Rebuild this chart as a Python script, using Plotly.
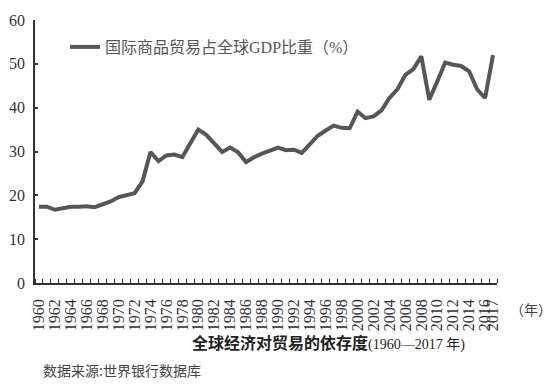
import plotly.graph_objects as go

years = list(range(1960, 2018))
share = [17.4, 17.4, 16.7, 17.0, 17.4, 17.4, 17.5, 17.3, 18.0, 18.6,
         19.6, 20.1, 20.5, 23.2, 29.9, 27.8, 29.1, 29.3, 28.7, 31.9,
         35.0, 33.8, 31.9, 29.9, 30.9, 29.8, 27.6, 28.7, 29.5, 30.3,
         30.9, 30.3, 30.4, 29.7, 31.5, 33.6, 34.8, 35.9, 35.4, 35.3,
         39.1, 37.6, 38.0, 39.4, 42.2, 44.2, 47.5, 48.8, 51.7, 41.8,
         46.0, 50.3, 49.8, 49.5, 48.3, 44.2, 42.2, 52.0]
x_tickvals = list(range(1960, 2017, 2)) + [2017]
x_ticktext = [str(v) for v in x_tickvals]
y_tickvals = [0, 10, 20, 30, 40, 50, 60]

series_name = "国际商品贸易占全球GDP比重（%）"
title_main = "全球经济对贸易的依存度"
title_sub = "(1960—2017 年)"
source_text = "数据来源:世界银行数据库"
unit_text = "（年）"

SERIF = "Liberation Serif, Noto Sans CJK SC, serif"
CJK = "Noto Sans CJK SC, Liberation Serif, sans-serif"

fig = go.Figure()
fig.add_trace(go.Scatter(
    x=years, y=share, mode="lines", name=series_name,
    line=dict(color="#565656", width=4),
    showlegend=True,
))

# The page body has an 8px default margin, so the figure is drawn 8px smaller
# and all margins are reduced by 8px to keep the reference layout.
fig.update_layout(
    width=550, height=371,
    margin=dict(l=27, r=61, t=12, b=95.5, autoexpand=False),
    paper_bgcolor="white", plot_bgcolor="white",
    showlegend=True,
    legend=dict(
        x=0.065, y=0.962, xanchor="left", yanchor="top",
        font=dict(family=SERIF, size=16, color="#555555"),
        bgcolor="rgba(0,0,0,0)", borderwidth=0,
    ),
    xaxis=dict(
        range=[1959.5, 2017.5], showgrid=False, zeroline=False,
        automargin=False,
        showline=True, linecolor="#333333", linewidth=1.5,
        tickmode="array", tickvals=x_tickvals, ticktext=x_ticktext,
        ticks="", tickangle=-90,
        ticklabelstandoff=8,
        tickfont=dict(family=SERIF, size=16, color="#333333"),
        minor=dict(tick0=1959.5, dtick=1, ticks="inside", ticklen=4,
                   tickcolor="#333333", tickwidth=1.2, showgrid=False),
    ),
    yaxis=dict(
        range=[0, 60], showgrid=False, zeroline=False,
        automargin=False,
        showline=True, linecolor="#333333", linewidth=1.5,
        tickmode="array", tickvals=y_tickvals,
        ticks="inside", ticklen=3, tickwidth=1.5, tickcolor="#333333",
        ticklabelstandoff=5,
        tickfont=dict(family=SERIF, size=16, color="#333333"),
    ),
    annotations=[
        dict(text=f"<b>{title_main}</b><span style='font-size:14px;font-family:Liberation Serif, Noto Sans CJK SC'>{title_sub}</span>",
             xref="paper", yref="paper", x=0.635, y=-0.226,
             xanchor="center", yanchor="middle", showarrow=False,
             font=dict(family=CJK, size=16, color="#222222")),
        dict(text=source_text, xref="paper", yref="paper",
             x=0.012, y=-0.33, xanchor="left", yanchor="middle",
             showarrow=False,
             font=dict(family=CJK, size=14, color="#444444")),
        dict(text=unit_text, xref="paper", yref="paper",
             x=1.074, y=-0.1, xanchor="center", yanchor="middle",
             showarrow=False,
             font=dict(family=CJK, size=14, color="#444444")),
    ],
)

fig.write_html("out.html")
